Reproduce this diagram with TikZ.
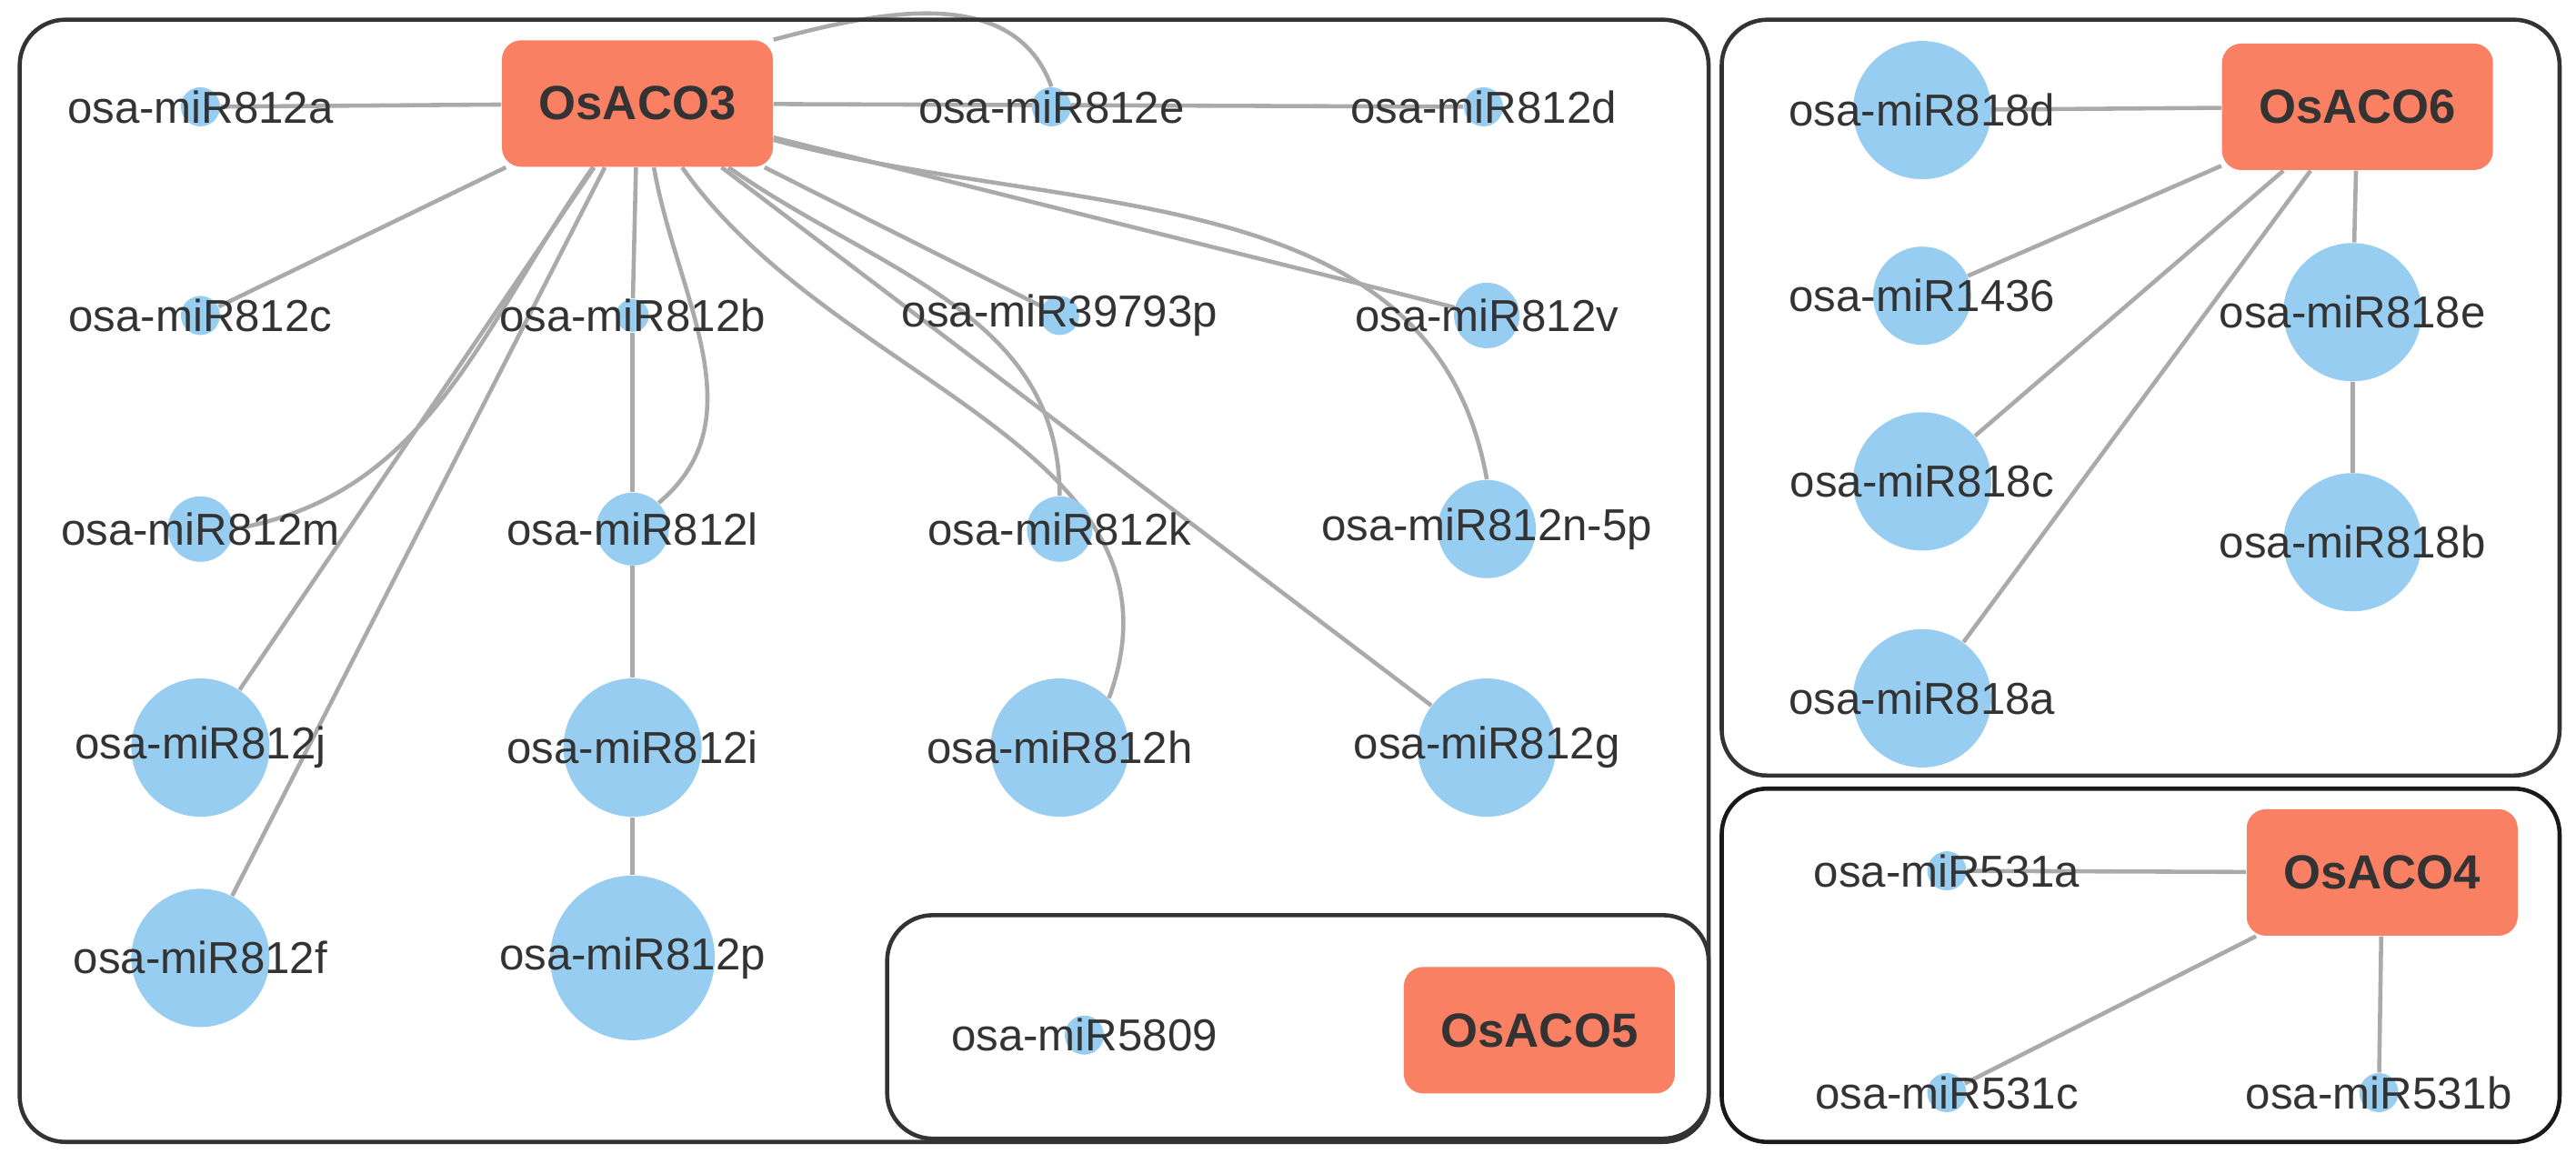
\documentclass[tikz,border=0pt]{standalone}
\usepackage{fontspec}
\setmainfont{Liberation Sans}
\usetikzlibrary{backgrounds}
\definecolor{mirblue}{RGB}{150,205,240}
\definecolor{acored}{RGB}{250,128,100}
\definecolor{edgegray}{RGB}{170,170,170}
\tikzstyle{mir}=[circle, fill=mirblue, inner sep=0pt, minimum size=#1]
\tikzstyle{gene}=[rectangle, rounded corners=6pt, fill=acored, minimum width=2.98cm, minimum height=1.39cm, font=\fontsize{15}{17}\selectfont\bfseries, text=black!80]
\tikzstyle{lab}=[font=\fontsize{14}{16}\selectfont, text=black!80]
\tikzstyle{edge}=[draw=edgegray, line width=1.3pt]
\tikzstyle{frame}=[draw=black!80, line width=1.3pt, rounded corners=0.5cm]

\begin{document}
\begin{tikzpicture}[x=0.01807cm, y=-0.01807cm]
\useasboundingbox (0,0) rectangle (1568,708);

% boxes
\draw[frame] (12,12) rectangle (1040,695);
\draw[frame, fill=white] (540,557) rectangle (1040,693);
\draw[frame] (1048,12) rectangle (1558,472);
\draw[frame, draw=black!90] (1048,480) rectangle (1558,695);

% OsACO3 group
\node[gene] (aco3) at (388,63) {OsACO3};
\node[mir=0.43cm, label={[lab]center:osa-miR812a}] (m812a) at (122,65) {};
\node[mir=0.43cm, label={[lab]center:osa-miR812e}] (m812e) at (640,65) {};
\node[mir=0.43cm, label={[lab]center:osa-miR812d}] (m812d) at (903,65) {};
\node[mir=0.43cm, label={[lab]center:osa-miR812c}] (m812c) at (122,192) {};
\node[mir=0.36cm, label={[lab]center:osa-miR812b}] (m812b) at (385,192) {};
\node[mir=0.43cm, label={[lab]center:osa-miR39793p}] (m39793p) at (645,192) {};
\node[mir=0.72cm, label={[lab]center:osa-miR812v}] (m812v) at (905,192) {};
\node[mir=0.72cm, label={[lab]center:osa-miR812m}] (m812m) at (122,322) {};
\node[mir=0.8cm, label={[lab]center:osa-miR812l}] (m812l) at (385,322) {};
\node[mir=0.72cm, label={[lab]center:osa-miR812k}] (m812k) at (645,322) {};
\node[mir=1.08cm, label={[lab]center:osa-miR812n-5p}] (m812n) at (905,322) {};
\node[mir=1.52cm, label={[lab]center:osa-miR812j}] (m812j) at (122,455) {};
\node[mir=1.52cm, label={[lab]center:osa-miR812i}] (m812i) at (385,455) {};
\node[mir=1.52cm, label={[lab]center:osa-miR812h}] (m812h) at (645,455) {};
\node[mir=1.52cm, label={[lab]center:osa-miR812g}] (m812g) at (905,455) {};
\node[mir=1.52cm, label={[lab]center:osa-miR812f}] (m812f) at (122,583) {};
\node[mir=1.81cm, label={[lab]center:osa-miR812p}] (m812p) at (385,583) {};

% OsACO5 group
\node[gene] (aco5) at (937,627) {OsACO5};
\node[mir=0.43cm, label={[lab]center:osa-miR5809}] (m5809) at (660,630) {};

% OsACO6 group
\node[gene] (aco6) at (1435,65) {OsACO6};
\node[mir=1.52cm, label={[lab]center:osa-miR818d}] (m818d) at (1170,67) {};
\node[mir=1.08cm, label={[lab]center:osa-miR1436}] (m1436) at (1170,180) {};
\node[mir=1.52cm, label={[lab]center:osa-miR818e}] (m818e) at (1432,190) {};
\node[mir=1.52cm, label={[lab]center:osa-miR818c}] (m818c) at (1170,293) {};
\node[mir=1.52cm, label={[lab]center:osa-miR818b}] (m818b) at (1432,330) {};
\node[mir=1.52cm, label={[lab]center:osa-miR818a}] (m818a) at (1170,425) {};

% OsACO4 group
\node[gene] (aco4) at (1450,531) {OsACO4};
\node[mir=0.43cm, label={[lab]center:osa-miR531a}] (m531a) at (1185,530) {};
\node[mir=0.43cm, label={[lab]center:osa-miR531c}] (m531c) at (1185,665) {};
\node[mir=0.43cm, label={[lab]center:osa-miR531b}] (m531b) at (1448,665) {};

\begin{scope}[on background layer]
\draw[edge] (aco3) -- (m812a);
\draw[edge] (aco3) -- (m812d);
\draw[edge] (aco3.north east) to[out=15,in=110] (m812e.north);
\draw[edge] (aco3) -- (m812c);
\draw[edge] (aco3) to[out=-125,in=10] (m812m.east);
\draw[edge] (aco3) -- (m812j);
\draw[edge] (aco3) -- (m812f);
\draw[edge] (aco3) -- (m812b);
\draw[edge] (m812b) -- (m812l);
\draw[edge] (aco3.south) ++(10,0) to[out=-80,in=40] (m812l.north east);
\draw[edge] (m812l) -- (m812i);
\draw[edge] (m812i) -- (m812p);
\draw[edge] (aco3) to[out=-55,in=70] (m812h.north east);
\draw[edge] (aco3) to[out=-35,in=90] (m812k.north);
\draw[edge] (aco3) -- (m39793p);
\draw[edge] (aco3) -- (m812g);
\draw[edge] (aco3) -- (m812v);
\draw[edge] (aco3) to[out=-15,in=100] (m812n.north);
\draw[edge] (m5809) -- (aco5);
\draw[edge] (m818d) -- (aco6);
\draw[edge] (aco6) -- (m1436);
\draw[edge] (aco6) -- (m818c);
\draw[edge] (aco6) -- (m818a);
\draw[edge] (aco6) -- (m818e);
\draw[edge] (m818e) -- (m818b);
\draw[edge] (m531a) -- (aco4);
\draw[edge] (aco4) -- (m531c);
\draw[edge] (aco4) -- (m531b);
\end{scope}
\end{tikzpicture}
\end{document}
